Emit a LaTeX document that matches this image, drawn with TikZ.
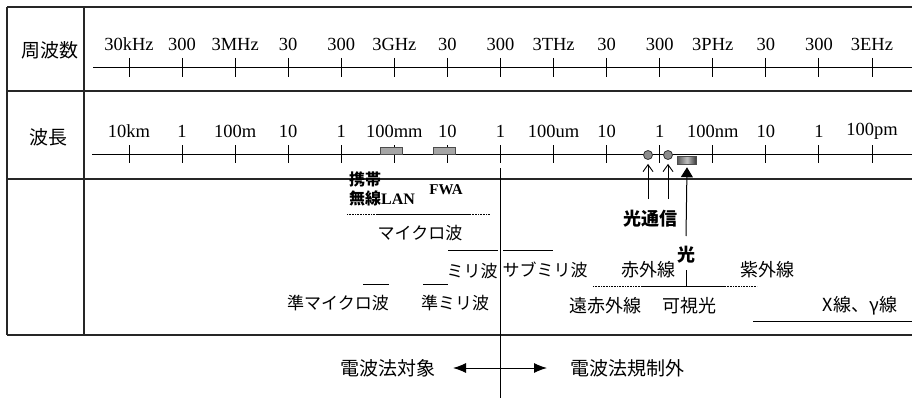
\documentclass[tikz,border=0pt]{standalone}
\usepackage{fontspec}
\setmainfont{Liberation Serif}
\newfontfamily\jp{Noto Sans CJK JP}
\usetikzlibrary{arrows.meta}
\begin{document}
\begin{tikzpicture}[x=1pt,y=-1pt,
  frame/.style={line width=1.2pt,black!85},
  axisln/.style={line width=1pt},
  tickln/.style={line width=0.9pt},
  rangeln/.style={line width=1pt},
  dotln/.style={line width=0.8pt,dash pattern=on 0.7pt off 0.9pt},
  num/.style={font=\fontsize{18.5}{18.5}\selectfont,inner sep=0pt},
  jt/.style={font=\jp\fontsize{18}{18}\selectfont,inner sep=0pt},
  jk/.style={font=\jp\fontsize{17}{17}\selectfont,inner sep=0pt},
  jb/.style={font=\jp\bfseries\fontsize{18}{18}\selectfont,inner sep=0pt},
  rowlab/.style={font=\jp\fontsize{19}{19}\selectfont,inner sep=0pt},
  graybox/.style={draw=black!70,fill=black!35,line width=0.6pt,minimum width=22pt,minimum height=7pt,inner sep=0pt},
  dotc/.style={circle,draw=black!80,fill=black!45,line width=0.8pt,minimum size=9pt,inner sep=0pt},
  openarr/.style={-{Straight Barb[length=7pt,width=10pt,line width=0.9pt]},line width=0.9pt},
  fillarr/.style={-{Triangle[length=10pt,width=12pt]},line width=1pt},
  dblarr/.style={{Latex[length=13pt,width=10pt]}-{Latex[length=13pt,width=10pt]},line width=1pt}
]
\useasboundingbox (0,0) rectangle (912,401);
% table frame
\draw[frame] (7,7) -- (912,7);
\draw[frame] (7,91) -- (912,91);
\draw[frame] (7,179) -- (912,179);
\draw[frame] (7,335) -- (912,335);
\draw[frame] (7,7) -- (7,335);
\draw[frame] (84,7) -- (84,335);
% row labels
\node[rowlab] (lfreq) at (50,50) {周波数};
\node[rowlab] (lwave) at (48,137) {波長};
% axes
\draw[axisln] (93,68) -- (912,68);
\draw[axisln] (92,154) -- (912,154);
\foreach \t [count=\i from 0] in {30kHz,300,3MHz,30,300,3GHz,30,300,3THz,30,300,3PHz,30,300,3EHz}{
  \node[num] (f\i) at ({129+53.07*\i},44) {\t};
  \draw[tickln] ({129+53.07*\i},58) -- ++(0,19);
}
\foreach \t [count=\i from 0] in {10km,1,100m,10,1,100mm,10,1,100um,10,1,100nm,10,1,100pm}{
  \node[num] (w\i) at ({129+53.07*\i},131) {\t};
  \draw[tickln] ({129+53.07*\i},145) -- ++(0,18);
}
% markers on wavelength axis
\node[graybox] (r1) at (391,151) {};
\node[graybox] (r2) at (444,151) {};
\node[dotc] (c1) at (648,155) {};
\node[dotc] (c2) at (668,155) {};
\node[draw=black!70,line width=0.5pt,minimum width=19pt,minimum height=8pt,inner sep=0pt,
      left color=black!65,right color=black!80,middle color=black!25] (g) at (687,160) {};
% mobile / FWA
\node[font=\jp\bfseries\fontsize{16}{16}\selectfont,inner sep=0pt,anchor=west] (keitai) at (349,179) {携帯};
\node[font=\jp\bfseries\fontsize{16}{16}\selectfont,inner sep=0pt,anchor=west] (wlan) at (349,198) {無線\fontspec{Liberation Serif}\bfseries LAN};
\node[font=\bfseries\fontsize{15}{15}\selectfont,inner sep=0pt] (fwa) at (446,190) {FWA};
% microwave line
\draw[dotln] (347,214) -- (378,214);
\draw[rangeln] (378,214) -- (470,214);
\draw[dotln] (470,214) -- (490,214);
\node[jk] (micro) at (420,233) {マイクロ波};
\draw[rangeln] (448,250) -- (498,250);
\draw[rangeln] (503,250) -- (553,250);
\node[jk] (milli) at (472,271) {ミリ波};
\node[jk] (submm) at (545,270) {サブミリ波};
\draw[rangeln] (363,284) -- (389,284);
\draw[rangeln] (423,284) -- (448,284);
\node[jk] (jmicro) at (338,303) {準マイクロ波};
\node[jk] (jmilli) at (455,303) {準ミリ波};
% boundary line
\draw[line width=1pt] (500,168) -- (500,398);
% optical communication
\node[jb] (hikatsu) at (650,219) {光通信};
\coordinate (a1) at (648,199);
\coordinate (a2) at (668,199);
\coordinate (a3) at (686,236);
\draw[openarr] (a1) -- ([yshift=-4pt]c1.south);
\draw[openarr] (a2) -- ([yshift=-4pt]c2.south);
\draw[fillarr] (a3) -- ([yshift=-3pt]g.south);
\node[jb] (hikari) at (686,255) {光};
\draw[line width=1pt] (686,270) -- (686,286);
\node[jt] (sekigai) at (648,270) {赤外線};
\node[jt] (shigai) at (767,270) {紫外線};
\draw[dotln] (593,286) -- (642,286);
\draw[rangeln] (642,286) -- (725,286);
\draw[dotln] (725,286) -- (757,286);
\node[jt] (enseki) at (605,306) {遠赤外線};
\node[jt] (kashi) at (689,306) {可視光};
\node[jt] (xray) at (860,306) {X線、γ線};
\draw[rangeln] (753,321) -- (912,321);
% radio law
\node[jt,font=\jp\fontsize{19}{19}\selectfont] (taisho) at (388,368) {電波法対象};
\node[jt,font=\jp\fontsize{19}{19}\selectfont] (kiseigai) at (627,368) {電波法規制外};
\coordinate (dl) at (453,368);
\coordinate (dr) at (547,368);
\draw[dblarr] (dl) -- (dr);
\end{tikzpicture}
\end{document}
